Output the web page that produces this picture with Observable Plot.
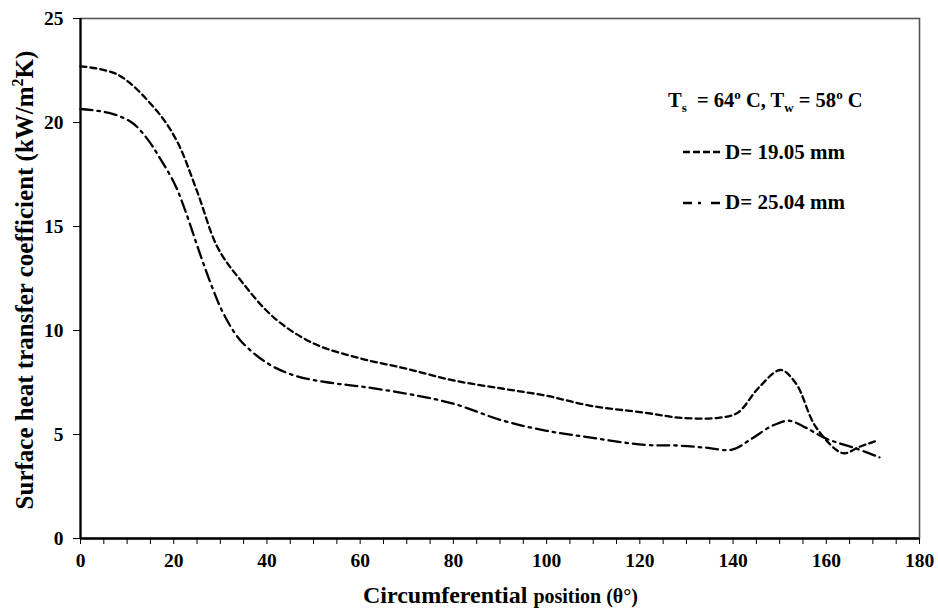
<!DOCTYPE html>
<html>
<head>
<meta charset="utf-8">
<script src="https://cdn.jsdelivr.net/npm/d3@7"></script>
<script src="https://cdn.jsdelivr.net/npm/@observablehq/plot@0.6"></script>
<style>
  html, body { margin: 0; padding: 0; background: #fff; }
  #chart { width: 938px; height: 610px; }
</style>
</head>
<body>
<div id="chart"></div>
<script>
// ---- Data ----
const theta1 = [0, 8, 16.4, 20.7, 25, 29.4, 34.4, 41.6, 50.2, 60.4, 70, 80, 90.7, 100, 109.5, 121, 129, 136.8, 141, 145.5, 150.2, 153.5, 157.8, 163.6, 167, 170.8];
const h1     = [22.7, 22.3, 20.55, 19.1, 16.7, 14.0, 12.4, 10.6, 9.36, 8.64, 8.16, 7.6, 7.2, 6.86, 6.38, 6.05, 5.8, 5.8, 6.05, 7.25, 8.1, 7.45, 5.35, 4.1, 4.4, 4.7];

const theta2 = [0, 6.3, 11, 14.2, 17, 20.3, 22.5, 24.7, 26.4, 28.3, 30.7, 34.4, 40.3, 46, 53.2, 60.4, 70, 80, 90.7, 100, 109.5, 121, 128, 134, 139.8, 144, 148.4, 152, 155.6, 160, 166.5, 171.4];
const h2     = [20.65, 20.45, 20.0, 19.25, 18.3, 17.0, 15.75, 14.3, 13.2, 12.05, 10.8, 9.5, 8.4, 7.83, 7.5, 7.3, 6.96, 6.48, 5.66, 5.18, 4.85, 4.5, 4.47, 4.37, 4.27, 4.8, 5.42, 5.66, 5.33, 4.8, 4.32, 3.9];

const seriesNames = ["D= 19.05 mm", "D= 25.04 mm"];
const xTicks = d3.range(0, 181, 5);
const xTickLabels = [0, 20, 40, 60, 80, 100, 120, 140, 160, 180];
const yTicks = [0, 5, 10, 15, 20, 25];

const d1 = theta1.map((t, i) => ({theta: t, h: h1[i]}));
const d2 = theta2.map((t, i) => ({theta: t, h: h2[i]}));

const DASH1 = "6,4";
const DASH2 = "12,5,2.5,5";
const FONT = "'Liberation Serif', 'Times New Roman', serif";

const plot = Plot.plot({
  width: 938,
  height: 610,
  marginLeft: 80,
  marginRight: 19,
  marginTop: 18,
  marginBottom: 72,
  style: {fontFamily: FONT, fontWeight: "bold", fontSize: "19px", color: "#000", background: "#fff"},
  x: {domain: [0, 180]},
  y: {domain: [0, 25]},
  marks: [
    Plot.frame({stroke: "#555", strokeWidth: 1.6}),
    Plot.axisX({
      ticks: xTicks,
      tickSize: 6,
      tickPadding: 9,
      tickFormat: d => xTickLabels.includes(d) ? String(d) : "",
      label: null,
      fontSize: 19.5,
      fontWeight: "bold"
    }),
    Plot.axisY({
      ticks: yTicks,
      tickSize: 7,
      tickPadding: 10,
      label: null,
      fontSize: 19.5,
      fontWeight: "bold"
    }),
    Plot.ruleX([0], {stroke: "#000", strokeWidth: 2.2}),
    Plot.ruleY([0], {stroke: "#000", strokeWidth: 2.5}),
    Plot.line(d1, {x: "theta", y: "h", curve: "catmull-rom", stroke: "#000", strokeWidth: 2.3, strokeDasharray: DASH1}),
    Plot.line(d2, {x: "theta", y: "h", curve: "catmull-rom", stroke: "#000", strokeWidth: 2.3, strokeDasharray: DASH2})
  ]
});

document.getElementById("chart").appendChild(plot);

// ---- Extra text: axis titles and legend ----
const svg = d3.select(plot);
const g = svg.append("g")
  .attr("font-family", FONT)
  .attr("font-weight", "bold")
  .attr("fill", "#000")
  .attr("text-anchor", "start");

// Y-axis title
const yt = g.append("text")
  .attr("transform", "translate(33,280) rotate(-90)")
  .attr("text-anchor", "middle")
  .attr("font-size", 25);
yt.append("tspan").text("Surface heat transfer coefficient (kW/m");
yt.append("tspan").attr("font-size", 16).attr("dy", -10).text("2");
yt.append("tspan").attr("dy", 10).text("K)");

// X-axis title
const xt = g.append("text")
  .attr("x", 363).attr("y", 603)
  .attr("text-anchor", "start")
  .attr("font-size", 24);
xt.append("tspan").text("Circumferential ");
xt.append("tspan").attr("font-size", 20).text("position (θ°)");

// Legend header
const lt = g.append("text").attr("x", 668).attr("y", 107).attr("font-size", 20.5).attr("text-anchor", "start");
lt.append("tspan").text("T");
lt.append("tspan").attr("font-size", 13).attr("dy", 5).text("s");
lt.append("tspan").attr("dy", -5).text("  = 64");
lt.append("tspan").attr("font-size", 13).attr("dy", -8).text("o");
lt.append("tspan").attr("dy", 8).text(" C, T");
lt.append("tspan").attr("font-size", 13).attr("dy", 5).text("w");
lt.append("tspan").attr("dy", -5).text(" = 58");
lt.append("tspan").attr("font-size", 13).attr("dy", -8).text("o");
lt.append("tspan").attr("dy", 8).text(" C");

// Legend entries
const entries = [
  {name: seriesNames[0], dash: "7,3", y: 152, ty: 159},
  {name: seriesNames[1], dash: "9,6,3,10", y: 203, ty: 209}
];
entries.forEach(e => {
  g.append("line")
    .attr("x1", 683).attr("x2", 720).attr("y1", e.y).attr("y2", e.y)
    .attr("stroke", "#000").attr("stroke-width", 2.5).attr("stroke-dasharray", e.dash);
  g.append("text").attr("x", 725).attr("y", e.ty).attr("font-size", 21)
    .attr("text-anchor", "start").text(e.name);
});
</script>
</body>
</html>
